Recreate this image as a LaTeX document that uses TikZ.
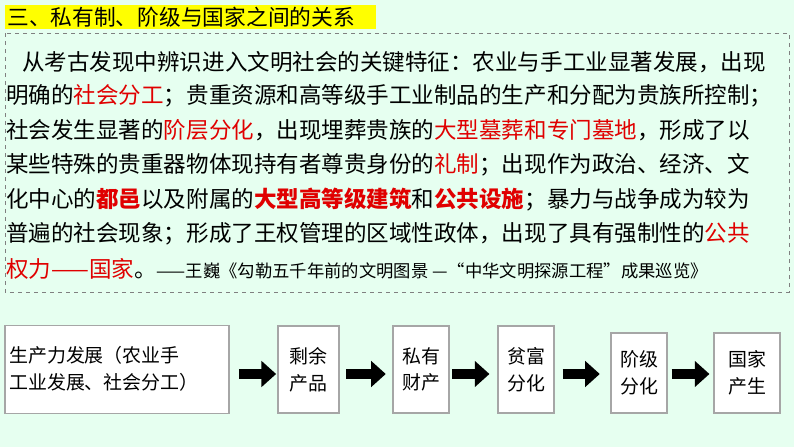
\documentclass[tikz,border=0pt]{standalone}
\usepackage{fontspec}
\setmainfont{Noto Sans CJK SC}
\usetikzlibrary{arrows.meta}
\definecolor{bg}{HTML}{E6FFF0}
\definecolor{hl}{HTML}{FFFF00}
\definecolor{rd}{HTML}{E00000}
\newcommand{\rt}[1]{\textcolor{rd}{#1}}
\newcommand{\rb}[1]{\textcolor{rd}{\bfseries #1}}
\tikzset{
  line/.style={anchor=west,inner sep=0pt,font=\fontsize{16.9pt}{20pt}\selectfont},
  flowbox/.style={draw=gray!70,fill=white,line width=0.8pt,inner sep=0pt},
  flowtxt/.style={align=left,font=\fontsize{14.2pt}{20pt}\selectfont,inner sep=0pt},
  blk/.style={line width=8pt,-{Triangle[length=11pt,width=19pt]}}
}
\begin{document}
\begin{tikzpicture}[x=0.75pt,y=-0.75pt]
\fill[bg] (0,0) rectangle (794,447);
\useasboundingbox (0,0) rectangle (794,447);
\fill[hl] (5,5) rectangle (376,29);
\node[anchor=west,inner sep=0pt,font=\fontsize{16.3pt}{18pt}\selectfont] (title) at (7,17) {三、私有制、阶级与国家之间的关系};
\draw[gray,dashed,line width=0.7pt] (5,33) rectangle (789,292);
\node[line] (l1) at (22,62) {从考古发现中辨识进入文明社会的关键特征：农业与手工业显著发展，出现};
\node[line] (l2) at (6,96) {明确的\rt{社会分工}；贵重资源和高等级手工业制品的生产和分配为贵族所控制；};
\node[line] (l3) at (6,130) {社会发生显著的\rt{阶层分化}，出现埋葬贵族的\rt{大型墓葬和专门墓地}，形成了以};
\node[line] (l4) at (6,165) {某些特殊的贵重器物体现持有者尊贵身份的\rt{礼制}；出现作为政治、经济、文};
\node[line] (l5) at (6,200) {化中心的\rb{都邑}以及附属的\rb{大型高等级建筑}和\rb{公共设施}；暴力与战争成为较为};
\node[line] (l6) at (6,234) {普遍的社会现象；形成了王权管理的区域性政体，出现了具有强制性的\rt{公共}};
\node[line] (l7) at (6,269) {\rt{权力——国家}。{\fontsize{13pt}{15pt}\selectfont ——王巍《勾勒五千年前的文明图景 —“中华文明探源工程”成果巡览》}};
% flow
\node[flowbox,minimum width=224*0.75pt,minimum height=88*0.75pt] (b1) at (117,369.5) {};
\node[flowtxt,anchor=west] (t1) at (9,369) {生产力发展（农业手\\工业发展、社会分工）};
\node[flowbox,minimum width=61*0.75pt,minimum height=87*0.75pt,flowtxt,align=center] (b2) at (308.5,369.5) {剩余\\产品};
\node[flowbox,minimum width=56*0.75pt,minimum height=87*0.75pt,flowtxt,align=center] (b3) at (421,369.5) {私有\\财产};
\node[flowbox,minimum width=56*0.75pt,minimum height=87*0.75pt,flowtxt,align=center] (b4) at (526,369.5) {贫富\\分化};
\node[flowbox,minimum width=56*0.75pt,minimum height=80*0.75pt,flowtxt,align=center] (b5) at (639,373) {阶级\\分化};
\node[flowbox,minimum width=66*0.75pt,minimum height=80*0.75pt,flowtxt,align=center] (b6) at (747,373) {国家\\产生};
\draw[blk] ([xshift=7pt]b1.east|-0,374) -- ([xshift=-1pt]b2.west|-0,374);
\draw[blk] ([xshift=5pt]b2.east|-0,374) -- ([xshift=-5pt]b3.west|-0,374);
\draw[blk] ([xshift=2pt]b3.east|-0,374) -- ([xshift=-6pt]b4.west|-0,374);
\draw[blk] ([xshift=6pt]b4.east|-0,374) -- ([xshift=-8pt]b5.west|-0,374);
\draw[blk] ([xshift=3pt]b5.east|-0,374) -- ([xshift=-3pt]b6.west|-0,374);
\end{tikzpicture}
\end{document}
